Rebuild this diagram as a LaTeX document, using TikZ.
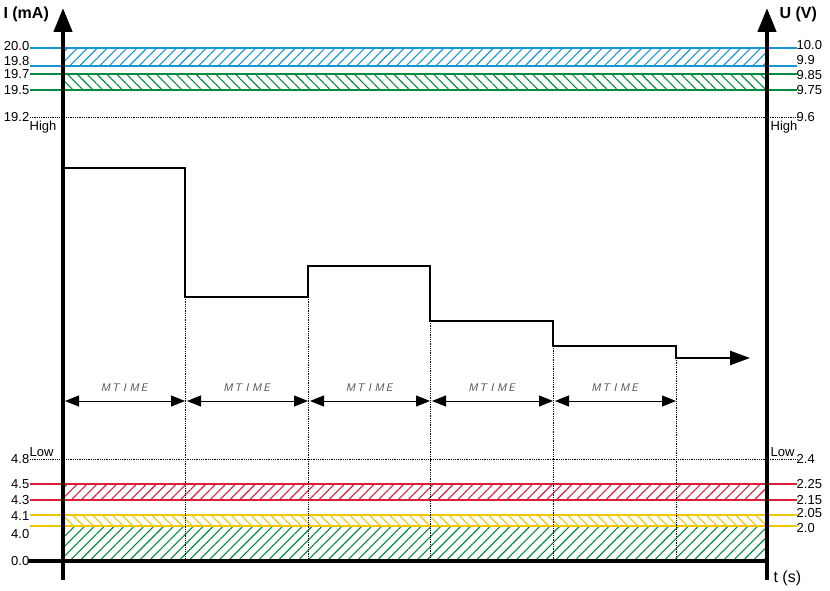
\documentclass[tikz,border=0pt]{standalone}
\usepackage{fontspec}
\setmainfont{Liberation Sans}
\usetikzlibrary{patterns.meta,arrows.meta}
\definecolor{cb}{RGB}{20,150,215}
\definecolor{cg}{RGB}{0,140,60}
\definecolor{cr}{RGB}{220,30,60}
\definecolor{cy}{RGB}{240,200,0}
\begin{document}
\begin{tikzpicture}[x=1pt,y=-1pt,
  lvl/.style={line width=1.2pt},
  dotl/.style={densely dotted,line width=0.8pt},
  hatchA/.style={pattern={Lines[angle=45,distance=7pt,line width=1.1pt]}},
  hatchB/.style={pattern={Lines[angle=-45,distance=7pt,line width=1.1pt]}},
  num/.style={font=\fontsize{13}{14}\selectfont,inner sep=0.5pt},
  axis/.style={line width=4.5pt,-{Triangle[length=24pt,width=18pt]}},
  mt/.style={font=\fontsize{11}{12}\selectfont\itshape\sffamily,text=black!70},
  dim/.style={line width=1pt,{Triangle[length=14pt,width=11pt]}-{Triangle[length=14pt,width=11pt]}}]
\useasboundingbox (0,0) rectangle (830,591);
% hatched bands
\fill[hatchA,pattern color=cb] (63,48) rectangle (767,66);
\fill[hatchB,pattern color=cg] (63,74) rectangle (767,90);
\fill[hatchA,pattern color=cr] (63,484) rectangle (767,500);
\fill[hatchB,pattern color=cy] (63,515) rectangle (767,526);
\fill[hatchA,pattern color=cg] (63,526) rectangle (767,561);
% level lines
\foreach \y/\c in {48/cb,66/cb,74/cg,90/cg,484/cr,500/cr,515/cy,526/cy}
  \draw[lvl,\c] (30,\y) -- (797,\y);
\draw[dotl] (30,117) -- (797,117);
\draw[dotl] (30,459) -- (797,459);
% left labels
\foreach \y/\t in {46/20.0,61/19.8,74/19.7,90/19.5,117/19.2,459/4.8,484/4.5,500/4.3,516/4.1,534/4.0,561/0.0}
  \node[num,anchor=east] (l\y) at (30,\y) {\t};
\foreach \y/\t in {45/10.0,60/9.9,75/9.85,90/9.75,117/9.6,459/2.4,484/2.25,500/2.15,513/2.05,528/2.0}
  \node[num,anchor=west] (r\y) at (796,\y) {\t};
\node[num,anchor=north west] (hl) at (29,120) {High};
\node[num,anchor=north west] (hr) at (770,120) {High};
\node[num,anchor=south west] (ll) at (29,457) {Low};
\node[num,anchor=south west] (lr) at (770,457) {Low};
% axes
\coordinate (o) at (63,580);
\coordinate (ot) at (63,8);
\coordinate (ro) at (767,580);
\coordinate (rt) at (767,8);
\coordinate (h0) at (28,561);
\coordinate (h1) at (768,561);
\draw[line width=4.5pt] (h0) -- (h1);
\draw[axis] (o) -- (ot);
\draw[axis] (ro) -- (rt);
\node[font=\bfseries\fontsize{16}{18}\selectfont,anchor=west] (ia) at (0,14) {I (mA)};
\node[font=\bfseries\fontsize{16}{18}\selectfont,anchor=west] (ua) at (776,14) {U (V)};
\node[font=\fontsize{16}{18}\selectfont,anchor=west] (ts) at (770,578) {t (s)};
% signal
\coordinate (s0) at (63,168);
\coordinate (s1) at (185,168);
\coordinate (s2) at (185,297);
\coordinate (s3) at (308,297);
\coordinate (s4) at (308,266);
\coordinate (s5) at (430,266);
\coordinate (s6) at (430,321);
\coordinate (s7) at (553,321);
\coordinate (s8) at (553,346);
\coordinate (s9) at (676,346);
\coordinate (s10) at (676,358);
\coordinate (s11) at (750,358);
\draw[line width=2.5pt,-{Triangle[length=20pt,width=14pt]}] (s0)--(s1)--(s2)--(s3)--(s4)--(s5)--(s6)--(s7)--(s8)--(s9)--(s10)--(s11);
% verticals
\foreach \x/\y in {185/297,308/297,430/321,553/346,676/358}
  \draw[dotl] (\x,\y) -- (\x,561);
% MTIME
\foreach \a/\b in {63/185,185/308,308/430,430/553,553/676}{
  \draw[dim] (\a+2,401) -- (\b,401);
  \node[mt] at ({(\a+\b)/2},388) {M\,T\,\,I\,\,M\,E};
}
\end{tikzpicture}
\end{document}
